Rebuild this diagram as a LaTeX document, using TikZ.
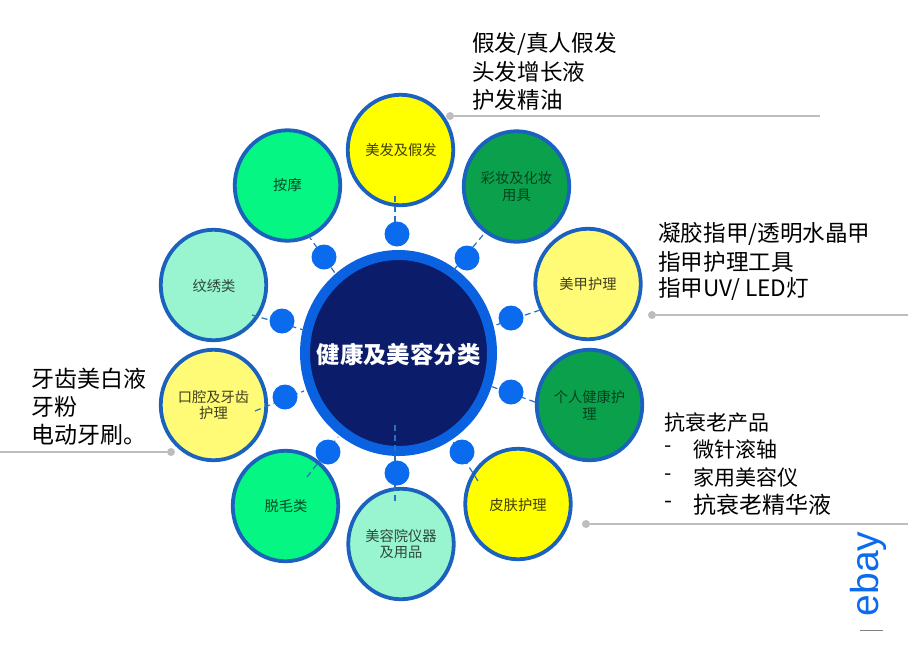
\documentclass[tikz,border=0pt]{standalone}
\usepackage{fontspec}
\setmainfont{Noto Sans CJK SC}
\usetikzlibrary{shapes.geometric}
\definecolor{ringc}{HTML}{1A62BE}
\definecolor{dotc}{HTML}{0A6BEE}
\definecolor{hubring}{HTML}{0A62E0}
\definecolor{hubfill}{HTML}{0B1C6B}
\definecolor{cyel}{HTML}{FFFF00}
\definecolor{cpale}{HTML}{FFFB77}
\definecolor{cgreen}{HTML}{06F683}
\definecolor{cmint}{HTML}{99F5CF}
\definecolor{cdark}{HTML}{0BA14C}
\definecolor{leadc}{HTML}{BDBDBD}
\definecolor{dashc}{HTML}{2A6FC0}
\tikzset{
  sat/.style={ellipse,draw=ringc,line width=3.8pt,inner sep=0pt,outer sep=0pt,
    minimum width=105.5pt,minimum height=110.5pt},
  satlabel/.style={inner sep=0pt,align=center,font=\fontsize{14.3pt}{16.5pt}\selectfont},
  smalldot/.style={circle,fill=dotc,inner sep=0pt,minimum size=25pt},
  link/.style={draw=dashc,line width=1.2pt,dash pattern=on 6pt off 4pt},
  leaddot/.style={circle,fill=leadc,inner sep=0pt,minimum size=8pt},
  leadline/.style={draw=leadc,line width=1.3pt},
  note/.style={anchor=west,inner sep=0pt,text=black,font=\fontsize{22.6pt}{26pt}\selectfont},
}
\begin{document}
\begin{tikzpicture}[x=1pt,y=-1pt]
\useasboundingbox (0,0) rectangle (908,649);
% hub
\node[ellipse,draw=hubring,fill=hubfill,line width=10pt,inner sep=0pt,outer sep=0pt,
  minimum width=187pt,minimum height=196pt] (hub) at (398.5,353) {};
% satellites
\node[sat,fill=cyel]   (s1)  at (400.5,150) {};
\node[sat,fill=cgreen] (s2)  at (287.5,185.5) {};
\node[sat,fill=cmint]  (s3)  at (213.5,285) {};
\node[sat,fill=cpale]  (s4)  at (213.5,405) {};
\node[sat,fill=cgreen] (s5)  at (285.5,506) {};
\node[sat,fill=cmint]  (s6)  at (401,544) {};
\node[sat,fill=cyel]   (s7)  at (518,504) {};
\node[sat,fill=cdark]  (s8)  at (589.5,405) {};
\node[sat,fill=cpale]  (s9)  at (588,284) {};
\node[sat,fill=cdark]  (s10) at (516.5,186.5) {};
% connector ends
\coordinate (a1) at (395,196);  \coordinate (b1) at (395,245);
\coordinate (a2) at (308,235);  \coordinate (b2) at (335,273);
\coordinate (a3) at (252,315);  \coordinate (b3) at (304,330);
\coordinate (a4) at (255,411);  \coordinate (b4) at (304,391);
\coordinate (a5) at (307,477);  \coordinate (b5) at (338,437);
\coordinate (a6) at (395,501);  \coordinate (b6) at (395,425);
\coordinate (a7) at (478,481);  \coordinate (b7) at (452,440);
\coordinate (a8) at (535,402);  \coordinate (b8) at (490,386);
\coordinate (a9) at (540,310);  \coordinate (b9) at (493,326);
\coordinate (a10) at (483,235); \coordinate (b10) at (452,272);
\foreach \i in {1,...,10} \draw[link] (a\i) -- (b\i);
% small dots
\node[smalldot] (d1)  at (397,234) {};
\node[smalldot] (d2)  at (324,257) {};
\node[smalldot] (d3)  at (282,321) {};
\node[smalldot] (d4)  at (285,397) {};
\node[smalldot] (d5)  at (328,452) {};
\node[smalldot] (d6)  at (397,473) {};
\node[smalldot] (d7)  at (462,452) {};
\node[smalldot] (d8)  at (511,392) {};
\node[smalldot] (d9)  at (511,318) {};
\node[smalldot] (d10) at (467,258) {};
% labels
\node[satlabel,text=black!75!cyel]   (t1) at (401,150) {美发及假发};
\node[satlabel,text=black!70!cgreen] (t2) at (287.5,185.5) {按摩};
\node[satlabel,text=black!70!cmint]  (t3) at (214,286) {纹绣类};
\node[satlabel,text=black!75!cpale]  (t4) at (213.5,405) {口腔及牙齿\\护理};
\node[satlabel,text=black!70!cgreen] (t5) at (286,506) {脱毛类};
\node[satlabel,text=black!70!cmint]  (t6) at (401,544) {美容院仪器\\及用品};
\node[satlabel,text=black!75!cyel]   (t7) at (518,505) {皮肤护理};
\node[satlabel,text=black!60!cdark]  (t8) at (589.5,405) {个人健康护\\理};
\node[satlabel,text=black!75!cpale]  (t9) at (588,284) {美甲护理};
\node[satlabel,text=black!60!cdark]  (t10) at (516.5,186.5) {彩妆及化妆\\用具};
\node[text=white,font=\fontsize{23.4pt}{26pt}\selectfont\bfseries,inner sep=0pt] (hubt) at (398.5,354) {健康及美容分类};
% leaders
\node[leaddot] (l1) at (450,116) {}; \coordinate (e1) at (820,116);
\node[leaddot] (l2) at (652,315) {}; \coordinate (e2) at (908,315);
\node[leaddot] (l3) at (586,524) {}; \coordinate (e3) at (908,524);
\node[leaddot] (l4) at (171,452) {}; \coordinate (e4) at (0,452);
\foreach \i in {1,...,4} \draw[leadline] (l\i) -- (e\i);
% notes
\node[note] (n1a) at (472,44) {假发/真人假发};
\node[note] (n1b) at (472,72) {头发增长液};
\node[note] (n1c) at (472,100) {护发精油};
\node[note] (n2a) at (658,234) {凝胶指甲/透明水晶甲};
\node[note] (n2b) at (658,262) {指甲护理工具};
\node[note] (n2c) at (658,289) {指甲UV/ LED灯};
\node[note,font=\fontsize{23pt}{26pt}\selectfont] (n3a) at (31,379) {牙齿美白液};
\node[note,font=\fontsize{23pt}{26pt}\selectfont] (n3b) at (31,407) {牙粉};
\node[note,font=\fontsize{23pt}{26pt}\selectfont] (n3c) at (31,435) {电动牙刷。};
\node[note,font=\fontsize{21pt}{26pt}\selectfont] (n4a) at (664,422) {抗衰老产品};
\node[note,font=\fontsize{21pt}{26pt}\selectfont] (n4b) at (664,449) {-};
\node[note,font=\fontsize{21pt}{26pt}\selectfont] (n4c) at (693,449) {微针滚轴};
\node[note,font=\fontsize{21pt}{26pt}\selectfont] (n4d) at (664,477) {-};
\node[note,font=\fontsize{21pt}{26pt}\selectfont] (n4e) at (693,477) {家用美容仪};
\node[note,font=\fontsize{23pt}{26pt}\selectfont] (n4f) at (664,505) {-};
\node[note,font=\fontsize{23pt}{26pt}\selectfont] (n4g) at (693,505) {抗衰老精华液};
% logo
\node[rotate=90,text=dotc,inner sep=0pt,font=\fontspec{Liberation Sans}\fontsize{39pt}{39pt}\selectfont] (logo) at (868,574) {ebay};
\coordinate (m1) at (860,630); \coordinate (m2) at (883,630);
\draw[draw=gray,line width=1pt] (m1) -- (m2);
\end{tikzpicture}
\end{document}
